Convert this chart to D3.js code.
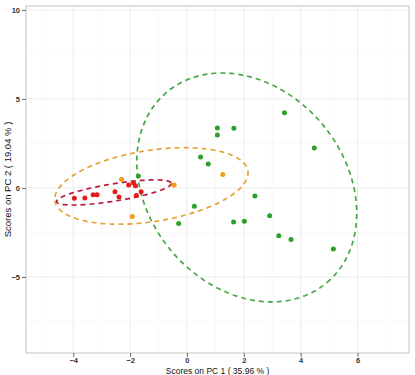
<!DOCTYPE html>
<html>
<head>
<meta charset="utf-8">
<script src="https://cdnjs.cloudflare.com/ajax/libs/d3/7.8.5/d3.min.js"></script>
<style>
  body { margin: 0; background: #fff; }
  svg { display: block; }
  .tick text { font-family: "Liberation Sans", Arial, sans-serif; }
</style>
</head>
<body>
<div id="chart"></div>
<script>
// scores on PC1 / PC2 for each group
const redX = [-3.96, -3.59, -3.30, -3.16, -2.53, -2.39, -2.05, -1.88, -1.81, -1.78, -1.61];
const redY = [-0.58, -0.56, -0.38, -0.38, -0.22, -0.51, 0.17, 0.28, 0.13, -0.42, -0.21];

const orangeX = [-2.30, -0.45, -1.92, 1.26];
const orangeY = [0.49, 0.17, -1.61, 0.75];

const greenX = [3.43, 1.07, 1.65, 1.07, 4.48, 0.48, 0.75, 2.39, 0.26, -0.29, 1.64, 2.02, 2.91, 3.23, 3.66, 5.15, -1.71];
const greenY = [4.23, 3.37, 3.35, 2.98, 2.25, 1.74, 1.35, -0.45, -1.03, -2.00, -1.91, -1.87, -1.56, -2.68, -2.90, -3.43, 0.67];

// ellipses: centre, then two conjugate semi-axes (data units)
const redEllipse = [-2.565, -0.253, 2.018, 0.517, 0.050, -0.48];
const orangeEllipse = [-1.249, 0.112, 3.393, 0.843, 0.191, -1.976];
const greenEllipse = [2.104, 0.028, 2.825, -5.337, 2.642, 3.584];

const xTicks = [-4, -2, 0, 2, 4, 6];
const yTicks = [-5, 0, 5, 10];
const xMinor = [-5, -3, -1, 1, 3, 5, 7];
const yMinor = [-7.5, -2.5, 2.5, 7.5];

const width = 415, height = 375;
const margin = { top: 6, right: 6, bottom: 22, left: 26 };

const svg = d3.select("#chart").append("svg")
    .attr("width", width)
    .attr("height", height);

const x = d3.scaleLinear().domain([-5.66, 7.81]).range([margin.left, width - margin.right]);
const y = d3.scaleLinear().domain([-9.27, 10.22]).range([height - margin.bottom, margin.top]);

const plot = svg.append("g");

// minor grid
plot.selectAll(".xminor").data(xMinor).enter().append("line")
    .attr("x1", d => x(d)).attr("x2", d => x(d))
    .attr("y1", y.range()[0]).attr("y2", y.range()[1])
    .attr("stroke", "#f5f5f5").attr("stroke-width", 0.6);
plot.selectAll(".yminor").data(yMinor).enter().append("line")
    .attr("y1", d => y(d)).attr("y2", d => y(d))
    .attr("x1", x.range()[0]).attr("x2", x.range()[1])
    .attr("stroke", "#f5f5f5").attr("stroke-width", 0.6);

// major grid
plot.selectAll(".xmajor").data(xTicks).enter().append("line")
    .attr("x1", d => x(d)).attr("x2", d => x(d))
    .attr("y1", y.range()[0]).attr("y2", y.range()[1])
    .attr("stroke", "#ebebeb").attr("stroke-width", 1);
plot.selectAll(".ymajor").data(yTicks).enter().append("line")
    .attr("y1", d => y(d)).attr("y2", d => y(d))
    .attr("x1", x.range()[0]).attr("x2", x.range()[1])
    .attr("stroke", "#ebebeb").attr("stroke-width", 1);

// ellipses
function ellipsePoints(e) {
    const pts = d3.range(0, 121).map(i => {
        const t = i / 120 * 2 * Math.PI;
        return [e[0] + e[2] * Math.cos(t) + e[4] * Math.sin(t),
                e[1] + e[3] * Math.cos(t) + e[5] * Math.sin(t)];
    });
    return pts;
}
const line = d3.line().x(d => x(d[0])).y(d => y(d[1]));

const groups = [
    { xs: greenX, ys: greenY, e: greenEllipse, pt: "#2ca02c", ln: "#45a845" },
    { xs: orangeX, ys: orangeY, e: orangeEllipse, pt: "#f39a1f", ln: "#e6a235" },
    { xs: redX, ys: redY, e: redEllipse, pt: "#e41a1c", ln: "#c0173d" }
];

groups.forEach(g => {
    plot.append("path")
        .attr("d", line(ellipsePoints(g.e)))
        .attr("fill", "none")
        .attr("stroke", g.ln)
        .attr("stroke-width", 1.7)
        .attr("stroke-dasharray", "5,4");
});

groups.forEach(g => {
    plot.selectAll(null).data(d3.range(g.xs.length)).enter().append("circle")
        .attr("cx", i => x(g.xs[i]))
        .attr("cy", i => y(g.ys[i]))
        .attr("r", 2.5)
        .attr("fill", g.pt);
});

// panel border
svg.append("rect")
    .attr("x", margin.left).attr("y", margin.top)
    .attr("width", width - margin.left - margin.right)
    .attr("height", height - margin.top - margin.bottom)
    .attr("fill", "none")
    .attr("stroke", "#c4c4c4")
    .attr("stroke-width", 1);

// axes
const xAxis = svg.append("g")
    .attr("transform", `translate(0,${height - margin.bottom})`)
    .call(d3.axisBottom(x).tickValues(xTicks).tickSize(4).tickPadding(1));
const yAxis = svg.append("g")
    .attr("transform", `translate(${margin.left},0)`)
    .call(d3.axisLeft(y).tickValues(yTicks).tickSize(4).tickPadding(2));

[xAxis, yAxis].forEach(a => {
    a.select(".domain").remove();
    a.selectAll(".tick line").attr("stroke", "#444").attr("stroke-width", 0.8);
    a.selectAll(".tick text").attr("fill", "#333").attr("font-size", 7.5).attr("font-weight", "bold");
});

// axis titles
svg.append("text")
    .attr("x", (x.range()[0] + x.range()[1]) / 2)
    .attr("y", 374)
    .attr("text-anchor", "middle")
    .attr("font-family", "Liberation Sans, Arial, sans-serif")
    .attr("font-size", 8.5)
    .attr("fill", "#111")
    .text("Scores on PC 1 ( 35.96 % )");

svg.append("text")
    .attr("transform", `translate(11,${(y.range()[0] + y.range()[1]) / 2}) rotate(-90)`)
    .attr("text-anchor", "middle")
    .attr("font-family", "Liberation Sans, Arial, sans-serif")
    .attr("font-size", 9.5)
    .attr("fill", "#111")
    .text("Scores on PC 2 ( 19.04 % )");
</script>
</body>
</html>
